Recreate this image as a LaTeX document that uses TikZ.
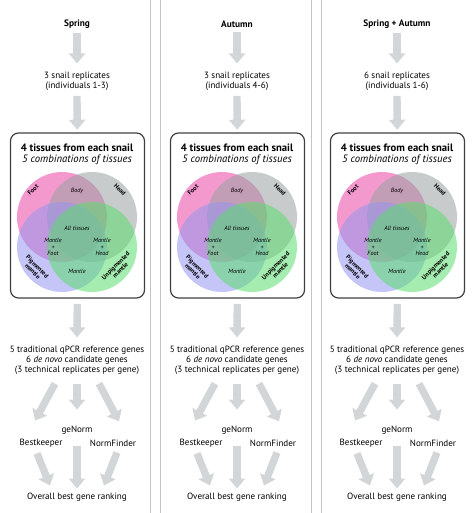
\documentclass[tikz,border=0pt]{standalone}
\usepackage{fontspec}
\setmainfont{PT Sans}
\usepackage{xcolor}
\usepackage{tikz}
\usetikzlibrary{arrows.meta}
\definecolor{arrowgray}{RGB}{211,214,217}
\definecolor{linegray}{RGB}{196,196,196}
\definecolor{footpink}{RGB}{235,70,165}
\definecolor{headgray}{RGB}{155,160,163}
\definecolor{pigblue}{RGB}{150,150,240}
\definecolor{unpiggreen}{RGB}{90,220,110}
\tikzstyle{node:title}=[inner sep=0pt, font=\fontsize{7}{8}\selectfont\bfseries]
\tikzstyle{node:text}=[inner sep=0pt, align=center, font=\fontsize{6.8}{7.6}\selectfont]
\tikzstyle{node:boxtitle}=[inner sep=0pt, font=\fontsize{8}{9}\selectfont\bfseries]
\tikzstyle{node:boxsub}=[inner sep=0pt, font=\fontsize{8}{9}\selectfont\itshape]
\tikzstyle{node:tissues}=[draw=black!75, line width=0.9pt, rounded corners=6pt, minimum width=100.5pt, minimum height=123.75pt]
\tikzstyle{node:set}=[circle, minimum size=67.5pt, inner sep=0pt, fill opacity=0.55]
\tikzstyle{node:setlabel}=[inner sep=0pt, align=center, font=\fontsize{4.7}{4.9}\selectfont\bfseries]
\tikzstyle{node:region}=[inner sep=0pt, align=center, font=\fontsize{4.6}{4.6}\selectfont\itshape]
\tikzstyle{draw:arrow}=[draw=arrowgray, line width=5.5pt, -{Triangle[width=12pt,length=7.5pt]}]
\tikzstyle{draw:separator}=[draw=linegray, line width=0.75pt]

\begin{document}
\begin{tikzpicture}[x=0.75pt, y=-0.75pt]
    \useasboundingbox (0,0) rectangle (474,513);

    % Panel separators
    \draw[draw:separator] (150,0) -- (150,513);
    \draw[draw:separator] (160,0) -- (160,513);
    \draw[draw:separator] (311,0) -- (311,513);
    \draw[draw:separator] (321,0) -- (321,513);

    \foreach \i/\cx/\season/\reps in {1/77/Spring/{3 snail replicates\\(individuals 1-3)},
                                      2/237/Autumn/{3 snail replicates\\(individuals 4-6)},
                                      3/397/{Spring + Autumn}/{6 snail replicates\\(individuals 1-6)}} {
    \begin{scope}[xshift=\cx*0.75pt]
        % Sampling
        \node[node:title] (season_\i) at (0,24) {\season};
        \node[node:text] (reps_\i) at (0,81) {\reps};

        % Tissue box
        \node[node:tissues] (tissues_\i) at (0.5,215.5) {};
        \node[node:boxtitle] (boxtitle_\i) at (0,148) {4 tissues from each snail};
        \node[node:boxsub] (boxsub_\i) at (0,160) {5 combinations of tissues};

        % Venn sets
        \node[node:set, fill=footpink] (foot_\i) at (-15,217) {};
        \node[node:set, fill=headgray] (head_\i) at (15,217) {};
        \node[node:set, fill=pigblue] (pig_\i) at (-15,247) {};
        \node[node:set, fill=unpiggreen] (unpig_\i) at (15,247) {};

        % Venn labels
        \node[node:setlabel, rotate=45] (footlbl_\i) at (-44,190) {Foot};
        \node[node:setlabel, rotate=-45] (headlbl_\i) at (43,190) {Head};
        \node[node:setlabel, rotate=-45] (piglbl_\i) at (-42,269) {Pigmented\\mantle};
        \node[node:setlabel, rotate=45] (unpiglbl_\i) at (41,268) {Unpigmented\\mantle};
        \node[node:region] (body_\i) at (0,191) {Body};
        \node[node:region] (all_\i) at (0,228) {All tissues};
        \node[node:region] (mfoot_\i) at (-24,247) {Mantle\\+\\Foot};
        \node[node:region] (mhead_\i) at (25,247) {Mantle\\+\\Head};
        \node[node:region] (mantle_\i) at (0,271) {Mantle};

        % Genes and methods
        \node[node:text] (genes_\i) at (0,360) {5 traditional qPCR reference genes\\6 \emph{de novo} candidate genes\\(3 technical replicates per gene)};
        \node[node:text] (genorm_\i) at (0,430) {geNorm};
        \node[node:text] (bestkeeper_\i) at (-36,443) {Bestkeeper};
        \node[node:text] (normfinder_\i) at (36,443) {NormFinder};
        \node[node:text] (ranking_\i) at (0,497) {Overall best gene ranking};

        % Flow arrows
        \draw[draw:arrow, shorten <=3pt, shorten >=6pt] (season_\i) -- (reps_\i);
        \draw[draw:arrow, shorten <=4pt, shorten >=2pt] (reps_\i) -- (tissues_\i);
        \draw[draw:arrow, shorten <=4pt, shorten >=6pt] (tissues_\i) -- (genes_\i);
        \draw[draw:arrow] ([shift={(-22,9)}]genes_\i.south) -- ([shift={(-6,-18)}]bestkeeper_\i.north);
        \draw[draw:arrow, shorten <=6.75pt, shorten >=12pt] (genes_\i) -- (genorm_\i);
        \draw[draw:arrow] ([shift={(22,9)}]genes_\i.south) -- ([shift={(6,-18)}]normfinder_\i.north);
        \draw[draw:arrow] ([shift={(-4,6)}]bestkeeper_\i.south) -- ([shift={(-27,-7)}]ranking_\i.north);
        \draw[draw:arrow, shorten <=9pt, shorten >=3pt] (genorm_\i) -- (ranking_\i);
        \draw[draw:arrow] ([shift={(4,6)}]normfinder_\i.south) -- ([shift={(27,-7)}]ranking_\i.north);
    \end{scope}
    }
\end{tikzpicture}
\end{document}
